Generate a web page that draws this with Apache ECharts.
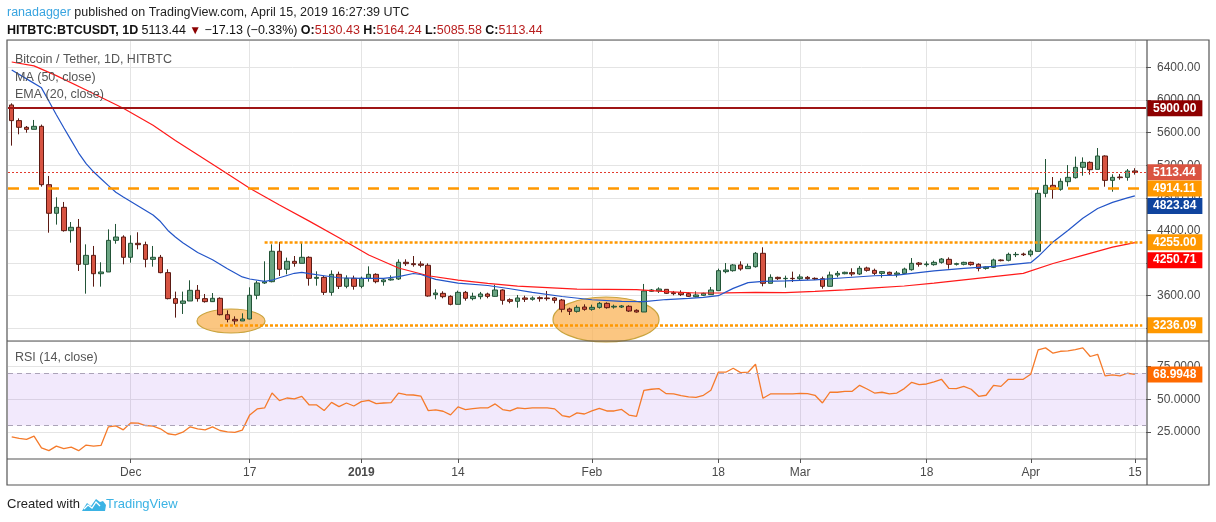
<!DOCTYPE html>
<html>
<head>
<meta charset="utf-8">
<script src="https://cdn.jsdelivr.net/npm/echarts@6/dist/echarts.min.js"></script>
<style>
  html, body { margin: 0; padding: 0; background: #fff; }
  #chart { width: 1216px; height: 522px; }
</style>
</head>
<body>
<div id="chart"></div>
<script>
// --- DATA (read off the snapshot) ---
// daily candles HITBTC:BTCUSDT from 2018-11-15, [open, high, low, close]
const candles = [
  [5940,5960,5441,5748],[5748,5776,5580,5666],[5666,5682,5600,5641],[5641,5756,5641,5678],[5678,5699,4938,4962],
  [4962,5069,4373,4611],[4611,4807,4472,4684],[4684,4750,4386,4398],[4398,4504,4251,4439],[4439,4541,3903,3985],
  [3985,4230,3625,4095],[4095,4210,3711,3870],[3870,4010,3711,3891],[3891,4414,3891,4279],[4279,4480,4238,4320],
  [4320,4341,3985,4071],[4071,4341,4005,4243],[4243,4378,4169,4226],[4226,4263,3948,4046],[4046,4210,3956,4071],
  [4071,4100,3875,3883],[3883,3924,3555,3564],[3564,3650,3331,3506],[3506,3650,3376,3535],[3535,3789,3535,3666],
  [3666,3731,3527,3564],[3564,3621,3515,3527],[3527,3633,3523,3568],[3568,3580,3359,3367],[3367,3421,3273,3310],
  [3310,3347,3245,3290],[3290,3384,3290,3314],[3314,3703,3310,3605],[3605,3781,3556,3756],[3756,4022,3744,3772],
  [3772,4230,3764,4145],[4145,4259,3842,3924],[3924,4067,3862,4022],[4022,4087,3956,3997],[3997,4259,3997,4071],
  [4071,4083,3723,3813],[3813,3899,3723,3825],[3825,3842,3609,3641],[3641,3911,3600,3862],[3862,3895,3682,3715],
  [3715,3850,3691,3813],[3813,3846,3674,3715],[3715,3834,3691,3813],[3813,3960,3772,3862],[3862,3875,3752,3772],
  [3772,3813,3723,3793],[3793,3850,3785,3805],[3805,4046,3793,4010],[4010,4046,3965,3993],[3993,4087,3956,3981],
  [3989,4022,3948,3973],[3973,3997,3588,3596],[3613,3678,3556,3633],[3629,3654,3568,3588],[3592,3605,3482,3494],
  [3494,3662,3494,3641],[3641,3658,3539,3568],[3564,3637,3543,3592],[3588,3646,3556,3621],[3621,3637,3568,3592],
  [3592,3735,3588,3670],[3670,3678,3490,3543],[3551,3568,3507,3531],[3531,3609,3453,3572],[3572,3600,3523,3556],
  [3556,3592,3539,3572],[3576,3592,3527,3564],[3572,3658,3539,3564],[3572,3584,3507,3543],[3547,3560,3396,3433],
  [3437,3453,3363,3408],[3408,3482,3392,3457],[3461,3494,3416,3433],[3433,3490,3416,3457],[3457,3523,3441,3506],
  [3506,3519,3441,3453],[3461,3490,3441,3470],[3461,3486,3449,3474],[3470,3482,3400,3412],[3421,3433,3392,3400],
  [3400,3744,3400,3658],[3654,3682,3646,3670],[3658,3703,3633,3682],[3678,3682,3621,3629],[3637,3658,3605,3625],
  [3637,3666,3596,3613],[3625,3641,3584,3592],[3588,3654,3580,3609],[3605,3637,3596,3629],[3613,3707,3613,3670],
  [3662,3932,3662,3907],[3895,4001,3875,3915],[3907,3989,3895,3977],[3977,4022,3907,3928],[3932,3993,3932,3960],
  [3956,4136,3944,4120],[4120,4194,3715,3752],[3752,3862,3752,3825],[3825,3834,3793,3809],[3809,3846,3699,3813],
  [3813,3895,3768,3809],[3809,3862,3793,3830],[3825,3842,3793,3809],[3813,3825,3793,3805],[3809,3834,3686,3715],
  [3715,3895,3715,3854],[3854,3903,3825,3874],[3870,3895,3862,3887],[3883,3936,3838,3866],[3866,3965,3854,3936],
  [3940,3956,3895,3911],[3911,3932,3854,3874],[3874,3903,3821,3895],[3887,3895,3850,3862],[3862,3903,3825,3878],
  [3874,3944,3870,3927],[3919,4062,3907,3997],[4001,4013,3956,3985],[3981,4021,3956,3989],[3981,4030,3968,4009],
  [4009,4062,3993,4050],[4046,4070,3931,3985],[3985,4005,3970,3993],[3985,4017,3972,4009],[4009,4017,3968,3981],
  [3985,3997,3899,3935],[3935,3960,3919,3952],[3948,4054,3939,4038],[4038,4046,4021,4030],[4034,4128,4021,4107],
  [4103,4136,4074,4107],[4111,4128,4087,4103],[4103,4169,4079,4148],[4144,4905,4144,4856],[4856,5277,4807,4954],
  [4954,5056,4790,4905],[4905,5040,4888,5003],[4999,5203,4941,5052],[5048,5306,5036,5175],[5175,5297,5072,5236],
  [5236,5248,5085,5146],[5150,5412,5150,5314],[5314,5322,4937,5015],[5015,5089,4876,5052],[5056,5093,5023,5048],
  [5052,5154,5011,5130],[5130.43,5164.24,5085.58,5113.44]
];

// MA(50) and EMA(20): [day index, value]
const maPts = [
  [0,6467],[3,6420],[6,6300],[10,6124],[15,5899],[19,5690],[22,5505],[25,5330],[28,5155],[32,4918],
  [36,4713],[40,4515],[44,4310],[48,4100],[52,3940],[56,3845],[60,3790],[64,3750],[68,3717],[72,3698],
  [76,3680],[80,3678],[84,3675],[88,3650],[92,3633],[96,3635],[100,3641],[104,3637],[108,3652],[112,3672],
  [116,3695],[120,3719],[124,3755],[128,3795],[132,3835],[136,3874],[140,3995],[144,4095],[148,4195],[151,4250.71]
];
const emaPts = [
  [0,6370],[2,6260],[4,6150],[5,5985],[6,5820],[7,5660],[8,5505],[9,5350],[10,5220],[11,5120],
  [12,5035],[13,4950],[14,4870],[15,4810],[17,4700],[19,4590],[20,4510],[21,4400],[22,4320],[23,4250],
  [25,4130],[27,4040],[29,3930],[31,3830],[32,3805],[34,3775],[35,3790],[36,3820],[38,3875],[39,3885],
  [40,3870],[42,3845],[44,3820],[47,3813],[50,3813],[52,3835],[54,3872],[55,3860],[57,3800],[60,3755],
  [64,3725],[67,3685],[70,3640],[74,3590],[78,3550],[82,3530],[85,3527],[88,3553],[91,3567],[93,3580],
  [95,3600],[97,3690],[99,3760],[101,3775],[104,3781],[108,3793],[112,3820],[116,3845],[119,3852],[124,3905],
  [128,3935],[132,3960],[137,4005],[138,4080],[140,4260],[142,4400],[144,4550],[146,4670],[148,4745],[150,4800],
  [151,4823.84]
];

// RSI(14) per day
const rsiVals = [
  21.4,20.1,19.4,21.9,13.0,10.8,14.3,12.3,13.5,10.8,
  15.1,14.3,14.8,29.0,29.7,26.7,32.0,31.8,30.0,29.5,
  27.5,23.7,22.9,24.9,29.0,27.5,26.7,29.0,26.2,25.2,
  24.7,26.5,38.1,42.7,43.4,54.8,49.0,51.0,50.3,52.3,
  45.7,45.7,41.4,47.7,44.4,47.2,44.9,48.2,49.2,46.7,
  47.2,47.5,54.8,53.5,53.3,52.5,41.4,41.9,40.9,38.1,
  44.2,42.2,42.9,43.4,43.4,46.5,42.2,41.1,43.4,42.9,
  43.4,43.4,43.4,42.7,37.6,36.5,39.7,38.8,41.1,43.1,
  41.1,41.1,42.3,38.0,37.0,56.9,57.7,58.2,54.3,54.1,
  52.8,51.8,51.5,53.1,56.9,70.7,70.7,73.7,70.4,70.7,
  76.8,50.8,54.1,54.1,54.1,54.1,54.6,54.3,53.1,47.2,
  55.4,55.4,56.1,56.1,60.7,57.9,54.8,55.4,54.1,54.8,
  58.2,63.0,61.2,61.7,63.3,65.3,58.4,58.2,59.9,57.7,
  52.3,53.1,60.7,59.9,65.3,65.3,65.3,69.1,87.8,89.3,
  85.2,86.7,87.0,88.0,89.3,82.7,84.4,67.9,68.6,67.9,
  69.9,68.9948
];

// horizontal levels drawn by the author, and last values of the studies
const resistLevel = 5900;
const lastPrice = 5113.44;
const breakoutLevel = 4914.11;
const rangeTop = 4255;
const rangeTopFrom = 34;
const rangeBottom = 3236.09;
const rangeBottomFrom = 28;
const emaLast = 4823.84;
const maLast = 4250.71;
const rsiLast = 68.9948;

// x axis tick labels (day index -> text)
const tickIdx = [16, 32, 47, 60, 78, 95, 106, 123, 137, 151];
const tickText = ['Dec', '17', '2019', '14', 'Feb', '18', 'Mar', '18', 'Apr', '15'];

// --- CATEGORIES ---
const FONT = '"Liberation Sans", Arial, sans-serif';
const startDay = Date.UTC(2018, 10, 15);
const days = [];
for (let i = 0; i < 153; i++) {
  days.push(new Date(startDay + i * 86400000).toISOString().slice(0, 10));
}
const lastIdx = candles.length;  // one spare slot on the right

function priceTag(value, bg, shift) {
  const txt = typeof value === 'number' ? value.toFixed(value < 100 ? 4 : 2) : value;
  if (!shift) {
    return {
      show: true, position: 'end', distance: 1, formatter: txt,
      color: '#fff', backgroundColor: bg, padding: [2, 6, 2, 6],
      fontSize: 12, fontWeight: 'bold', lineHeight: 12, fontFamily: FONT
    };
  }
  // label pushed down under a neighbouring tag (like the original)
  return {
    show: true, position: 'end', distance: 1,
    formatter: '{s| }\n{t|' + txt + '}',
    rich: {
      s: { lineHeight: shift * 2, fontSize: 1 },
      t: { color: '#fff', backgroundColor: bg, padding: [2, 6, 2, 6], fontSize: 12,
           fontWeight: 'bold', lineHeight: 12, fontFamily: FONT }
    }
  };
}
const hidden = { color: 'rgba(0,0,0,0)', width: 1 };

const chart = echarts.init(document.getElementById('chart'), null, { renderer: 'canvas' });

const option = {
  animation: false,
  backgroundColor: '#fff',
  textStyle: { fontFamily: FONT },
  grid: [
    { left: 8, right: 70, top: 40, bottom: 193.7 },       // price pane
    { left: 8, right: 70, top: 341.7, bottom: 57.2 },     // RSI pane
    { left: 11.72, right: 81.1, top: 40, bottom: 63 }     // shared time scale
  ],
  xAxis: [
    { type: 'category', gridIndex: 0, data: days, boundaryGap: true, show: false },
    { type: 'category', gridIndex: 1, data: days, boundaryGap: true, show: false },
    {
      type: 'category', gridIndex: 2, data: days.slice(0, lastIdx), boundaryGap: false,
      axisLine: { show: false },
      axisTick: { show: true, length: 4, interval: (i) => tickIdx.includes(i), lineStyle: { color: '#555' } },
      splitLine: { show: true, interval: (i) => tickIdx.includes(i), lineStyle: { color: '#E4E4E4', width: 1 } },
      axisLabel: {
        interval: (i) => tickIdx.includes(i),
        margin: 8, fontSize: 12, color: '#4a4a4a', fontFamily: FONT,
        formatter: (v, i) => {
          const t = tickText[tickIdx.indexOf(i)];
          return t === '2019' ? '{b|2019}' : t;
        },
        rich: { b: { fontWeight: 'bold', fontSize: 12, color: '#4a4a4a', fontFamily: FONT } }
      }
    }
  ],
  yAxis: [
    {
      type: 'value', gridIndex: 0, position: 'right', min: 3200, max: 6737, interval: 400,
      axisLine: { show: false },
      axisTick: { show: true, length: 5, lineStyle: { color: '#555' } },
      axisLabel: { margin: 11, fontSize: 12, color: '#4a4a4a', showMaxLabel: false, fontFamily: FONT,
                   formatter: (v) => v.toFixed(2) },
      splitLine: { lineStyle: { color: '#E4E4E4' } }
    },
    {
      type: 'value', gridIndex: 1, position: 'right', min: 0, max: 94, interval: 25,
      axisLine: { show: false },
      axisTick: { show: true, length: 5, lineStyle: { color: '#555' } },
      axisLabel: { margin: 11, fontSize: 12, color: '#4a4a4a', showMaxLabel: false, showMinLabel: false,
                   fontFamily: FONT, formatter: (v) => v.toFixed(4) },
      splitLine: { showMinLine: false, lineStyle: { color: '#E4E4E4' } }
    },
    { type: 'value', gridIndex: 2, show: false, min: 0, max: 1 }
  ],
  series: [
    {
      type: 'candlestick', name: 'BTCUSDT', xAxisIndex: 0, yAxisIndex: 0, z: 2,
      data: candles.map(c => [c[0], c[3], c[2], c[1]]),
      barWidth: 5,
      itemStyle: { color: '#6BA583', color0: '#D75442', borderColor: '#225437', borderColor0: '#5B1A13', borderWidth: 1 },
      markLine: {
        silent: true, symbol: ['none', 'none'], animation: false,
        data: [
          { yAxis: resistLevel, lineStyle: { color: '#9E1414', width: 2, type: 'solid' }, label: priceTag(resistLevel, '#8E0000') },
          { yAxis: lastPrice, lineStyle: { color: '#E23B2E', width: 1, type: [2, 2] }, label: priceTag(lastPrice, '#DA5441') },
          { yAxis: breakoutLevel, lineStyle: { color: '#FF9800', width: 2.5, type: [11, 9] }, label: priceTag(breakoutLevel, '#FF9800') },
          { yAxis: emaLast, lineStyle: hidden, label: priceTag(emaLast, '#0F449E', 10) },
          { yAxis: rangeTop, lineStyle: hidden, label: priceTag(rangeTop, '#FF9800') },
          [ { coord: [rangeTopFrom, rangeTop], lineStyle: { color: '#FF9800', width: 2.5, type: [3, 2] }, label: { show: false } },
            { coord: [lastIdx, rangeTop] } ],
          { yAxis: maLast, lineStyle: hidden, label: priceTag(maLast, '#FF0000', 17.5) },
          { yAxis: rangeBottom, lineStyle: hidden, label: priceTag(rangeBottom, '#FF9800') },
          [ { coord: [rangeBottomFrom, rangeBottom], lineStyle: { color: '#FF9800', width: 2.5, type: [3, 2] }, label: { show: false } },
            { coord: [lastIdx, rangeBottom] } ]
        ]
      }
    },
    {
      type: 'line', name: 'MA (50, close)', xAxisIndex: 0, yAxisIndex: 0, z: 3,
      data: maPts, showSymbol: false, symbol: 'none',
      lineStyle: { color: '#FF1A1A', width: 1.2 }
    },
    {
      type: 'line', name: 'EMA (20, close)', xAxisIndex: 0, yAxisIndex: 0, z: 3,
      data: emaPts, showSymbol: false, symbol: 'none',
      lineStyle: { color: '#2355C8', width: 1.2 }
    },
    {
      type: 'line', name: 'RSI (14, close)', xAxisIndex: 1, yAxisIndex: 1, z: 3,
      data: rsiVals, showSymbol: false, symbol: 'none',
      lineStyle: { color: '#F57A2A', width: 1.3 },
      markArea: {
        silent: true,
        itemStyle: { color: 'rgba(149, 76, 233, 0.12)' },
        data: [[{ yAxis: 30 }, { yAxis: 70 }]]
      },
      markLine: {
        silent: true, symbol: ['none', 'none'], animation: false,
        data: [
          { yAxis: 70, lineStyle: { color: '#ABA3B8', width: 1, type: [5, 4] }, label: { show: false } },
          { yAxis: 30, lineStyle: { color: '#ABA3B8', width: 1, type: [5, 4] }, label: { show: false } },
          { yAxis: rsiLast, lineStyle: hidden, label: priceTag(rsiLast, '#FF6A00') }
        ]
      }
    }
  ],
  graphic: [
    // header
    { type: 'text', x: 7, y: 13, z: 10, style: {
        text: '{u|ranadagger} {t|published on TradingView.com, April 15, 2019 16:27:39 UTC}',
        verticalAlign: 'middle',
        rich: {
          u: { fill: '#38A4E0', fontSize: 12.5, fontFamily: FONT },
          t: { fill: '#222', fontSize: 12.5, fontFamily: FONT }
        } } },
    { type: 'text', x: 7, y: 31, z: 10, style: {
        text: '{b|HITBTC:BTCUSDT, 1D} {n|5113.44} {d|\u25BC} {n|\u221217.13 (\u22120.33%)} {b|O:}{r|5130.43} {b|H:}{r|5164.24} {b|L:}{r|5085.58} {b|C:}{r|5113.44}',
        verticalAlign: 'middle',
        rich: {
          b: { fill: '#111', fontWeight: 'bold', fontSize: 12.5, fontFamily: FONT },
          n: { fill: '#111', fontSize: 12.5, fontFamily: FONT },
          d: { fill: '#8B0000', fontSize: 12, fontFamily: FONT },
          r: { fill: '#B81E1E', fontSize: 12.5, fontFamily: FONT }
        } } },
    // pane legends
    { type: 'text', x: 15, y: 60, z: 10, style: { text: 'Bitcoin / Tether, 1D, HITBTC', fill: '#555', font: '12.5px ' + FONT, verticalAlign: 'middle' } },
    { type: 'text', x: 15, y: 78, z: 10, style: { text: 'MA (50, close)', fill: '#555', font: '12.5px ' + FONT, verticalAlign: 'middle' } },
    { type: 'text', x: 15, y: 95, z: 10, style: { text: 'EMA (20, close)', fill: '#555', font: '12.5px ' + FONT, verticalAlign: 'middle' } },
    { type: 'text', x: 15, y: 358, z: 10, style: { text: 'RSI (14, close)', fill: '#555', font: '12.5px ' + FONT, verticalAlign: 'middle' } },
    // highlighted bottoms
    { type: 'ellipse', z: 1, shape: { cx: 231, cy: 321, rx: 34, ry: 12 },
      style: { fill: 'rgba(249, 176, 80, 0.72)', stroke: '#C9A43F', lineWidth: 1.2 } },
    { type: 'ellipse', z: 1, shape: { cx: 606, cy: 319.5, rx: 53, ry: 22.5 },
      style: { fill: 'rgba(249, 176, 80, 0.72)', stroke: '#C9A43F', lineWidth: 1.2 } },
    // frame
    { type: 'rect', z: 6, shape: { x: 7, y: 40, width: 1202, height: 445 }, style: { fill: 'none', stroke: '#555', lineWidth: 1.2 } },
    { type: 'line', z: 6, shape: { x1: 7, y1: 341, x2: 1209, y2: 341 }, style: { stroke: '#555', lineWidth: 1.2 } },
    { type: 'line', z: 6, shape: { x1: 7, y1: 459, x2: 1147, y2: 459 }, style: { stroke: '#555', lineWidth: 1.2 } },
    { type: 'line', z: 6, shape: { x1: 1147, y1: 40, x2: 1147, y2: 485 }, style: { stroke: '#555', lineWidth: 1.2 } },
    // footer
    { type: 'text', x: 7, y: 504, z: 10, style: { text: 'Created with', fill: '#222', font: '13px ' + FONT, verticalAlign: 'middle' } },
    { type: 'polygon', z: 10, shape: { points: [[82,511],[87,503],[91,506],[96,499],[100,502],[103,501],[106,505],[105,511]] },
      style: { fill: '#3BB3E4' } },
    { type: 'polyline', z: 11, shape: { points: [[84,509],[88,505],[92,508],[96,502],[100,506]] },
      style: { stroke: '#fff', lineWidth: 1.3, fill: 'none' } },
    { type: 'text', x: 106, y: 504, z: 10, style: { text: 'TradingView', fill: '#3BB3E4', font: '13px ' + FONT, verticalAlign: 'middle' } }
  ]
};

chart.setOption(option);
</script>
</body>
</html>
